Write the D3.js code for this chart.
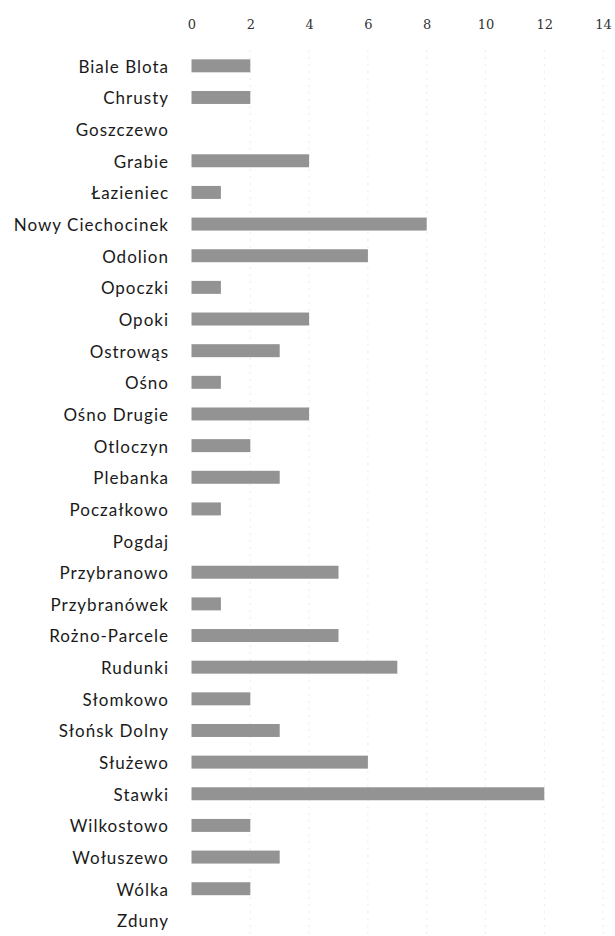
<!DOCTYPE html>
<html><head><meta charset="utf-8">
<script src="https://cdn.jsdelivr.net/npm/d3@7"></script>
<style>
html,body{margin:0;padding:0;background:#fff;}
svg{display:block;}
</style></head>
<body>
<svg id="chart" width="615" height="936"></svg>
<script>
const categories = ["Biale Blota","Chrusty","Goszczewo","Grabie","Łazieniec","Nowy Ciechocinek","Odolion","Opoczki","Opoki","Ostrowąs","Ośno","Ośno Drugie","Otloczyn","Plebanka","Poczałkowo","Pogdaj","Przybranowo","Przybranówek","Rożno-Parcele","Rudunki","Słomkowo","Słońsk Dolny","Służewo","Stawki","Wilkostowo","Wołuszewo","Wólka","Zduny"];
const values = [2,2,0,4,1,8,6,1,4,3,1,4,2,3,1,0,5,1,5,7,2,3,6,12,2,3,2,0];
const tickValues = [0,2,4,6,8,10,12,14];

const svg = d3.select("#chart");
const x = d3.scaleLinear().domain([0,14]).range([191.5, 603.1]);
const y = d3.scaleBand().domain(categories).range([50, 936.2]).paddingInner(0.59).paddingOuter(0.295);

// faint gridlines
svg.append("g").selectAll("line").data(tickValues.slice(1)).join("line")
  .attr("x1", d => x(d)).attr("x2", d => x(d))
  .attr("y1", 50).attr("y2", 936)
  .attr("stroke", "#ebebeb").attr("stroke-width", 1)
  .attr("stroke-dasharray", "2,5");

// top axis
const axis = d3.axisTop(x).tickValues(tickValues).tickSize(0).tickPadding(0);
const ax = svg.append("g").attr("transform", "translate(0,29)").call(axis);
ax.select(".domain").remove();
ax.selectAll("text").attr("font-family", "'DejaVu Serif', 'Liberation Serif', serif")
  .attr("font-size", 13).attr("fill", "#333");

// bars
svg.append("g").selectAll("rect").data(categories).join("rect")
  .attr("x", x(0))
  .attr("y", d => y(d))
  .attr("width", (d,i) => x(values[i]) - x(0))
  .attr("height", y.bandwidth())
  .attr("fill", "#939393");

// labels
svg.append("g").selectAll("text").data(categories).join("text")
  .attr("x", 169)
  .attr("y", d => y(d) + y.bandwidth()/2 + 1)
  .attr("dy", "0.35em")
  .attr("text-anchor", "end")
  .attr("font-family", "Lato, 'Open Sans', sans-serif")
  .attr("font-size", 17)
  .attr("letter-spacing", "1px")
  .attr("fill", "#1a1a1a")
  .text(d => d);
</script>
</body></html>
